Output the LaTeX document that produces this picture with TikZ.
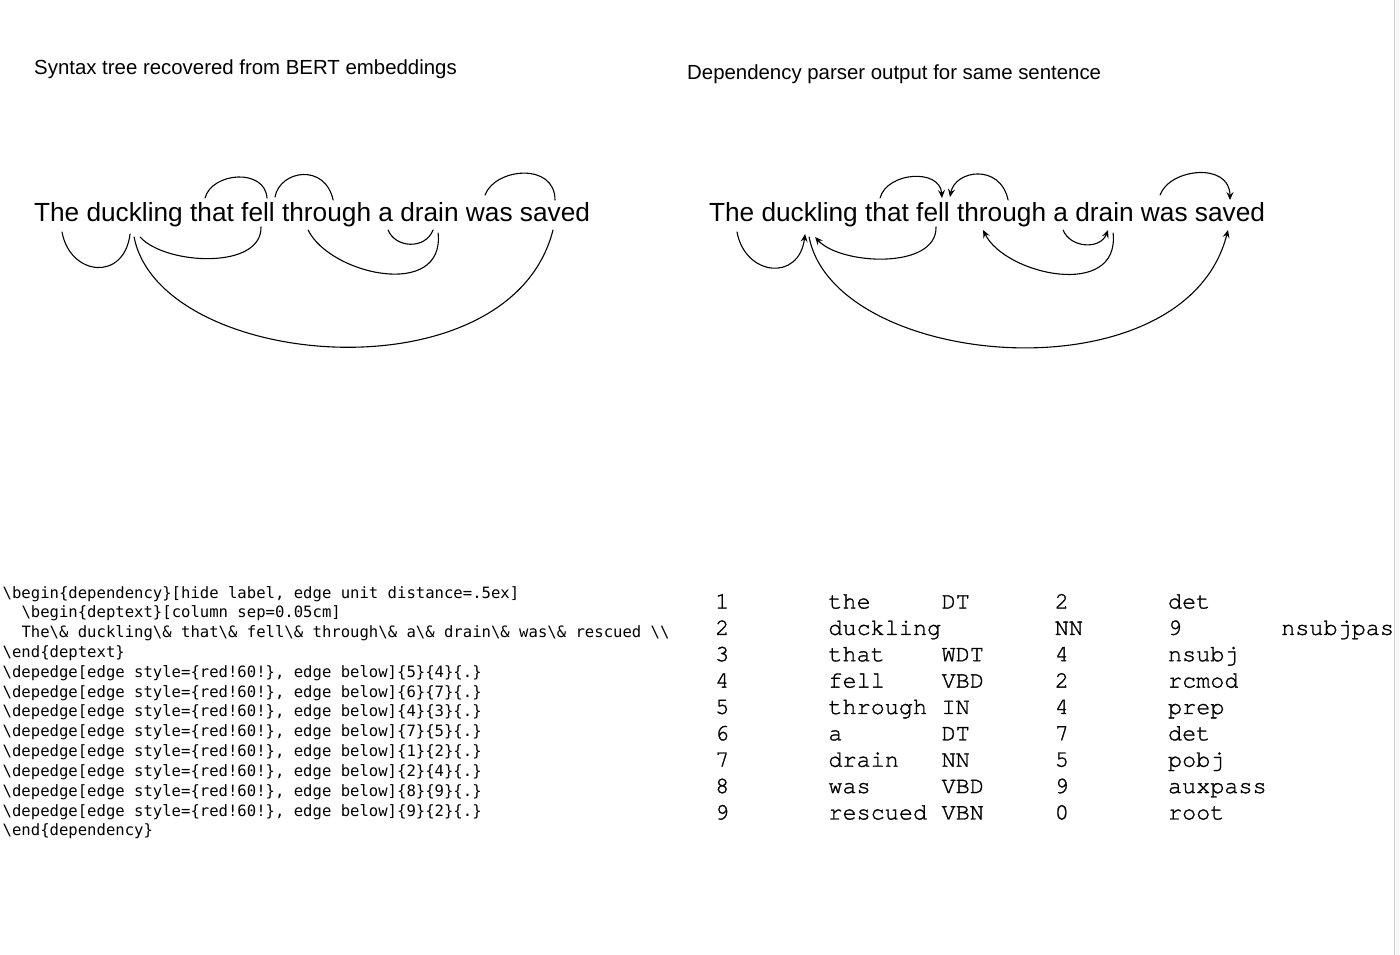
\documentclass[tikz,border=0pt]{standalone}
\usepackage{fontspec}
\setmainfont{Liberation Sans}
\newfontfamily\codefont{DejaVu Sans Mono}
\IfFontExistsTF{texgyrecursor-regular.otf}
  {\newfontfamily\tabfont{texgyrecursor-regular.otf}[FakeBold=1.2]}
  {\newfontfamily\tabfont{Liberation Mono}}
\usetikzlibrary{positioning,arrows.meta}

\tikzset{
  word/.style={inner sep=0pt,outer sep=0pt,font=\fontsize{26.25}{30}\selectfont},
  title/.style={inner sep=0pt,anchor=base west,font=\fontsize{20.4}{24}\selectfont},
  codeline/.style={inner sep=0pt,anchor=base west,font=\codefont\fontsize{15.6}{19}\selectfont},
  cell/.style={inner sep=0pt,anchor=base west,font=\tabfont\fontsize{23.5}{26}\selectfont},
  arc/.style={line width=1.1pt,line cap=round},
  noTip/.style={fwd/.style={},bwd/.style={}},
  withTip/.style={fwd/.style={-{Stealth[length=8pt,width=7pt,inset=3pt]}},
                  bwd/.style={{Stealth[length=8pt,width=7pt,inset=3pt]}-}}
}

\begin{document}
\begin{tikzpicture}[x=1pt,y=-1pt]
\fill[white] (0,0) rectangle (1400,955);
\useasboundingbox (0,0) rectangle (1400,955);

\node[title] (tLeft) at (34,75) {Syntax tree recovered from BERT embeddings};
\node[title] (tRight) at (687,80) {Dependency parser output for same sentence};

%兩個句子與其弧線
\foreach \pn/\px/\kind in {L/0/noTip, R/675/withTip}{
\begin{scope}[shift={(\px,0)},name prefix=\pn-,\kind]
\node[word,anchor=base west] (wThe) at (34,221) {The};
\foreach \w [remember=\w as \lastw (initially The)] in
  {duckling,that,fell,through,a,drain,was,saved}
  \node[word,base right=7.3pt of w\lastw] (w\w) {\w};

\foreach \n/\w/\dx/\dy in
{a1s/The/5.4/11, a1t/duckling/-4.6/13,
    a2s/duckling/5.4/16, a2t/fell/3/6,
    a3s/duckling/-0.6/16, a3t/saved/-2/9,
    a4s/through/-18.5/9, a4t/drain/8.6/12,
    a5s/a/2.4/9, a5t/drain/3.6/9,
    b1s/that/-7/-23, b1t/fell/9/-23,
    b2s/fell/17/-24, b2t/through/6.5/-21,
    b3s/was/-4.3/-26, b3t/saved/0/-21}
  \coordinate (\n) at ([shift={(\dx,\dy)}]w\w.base);

\foreach \s/\t/\ax/\ay/\bx/\by/\d in
{a1s/a1t/8/44/-6/48/fwd,
    a2s/a2t/25/28/1/43/bwd,
    a3s/a3t/26/133/-43/170/fwd,
    a4s/a4t/22/45/7/67/bwd,
    a5s/a5t/7/18/-8/20/fwd,
    b1s/b1t/7/-26/-2/-30/fwd,
    b2s/b2t/5/-27/-8/-37/bwd,
    b3s/b3t/10/-27/0/-38/fwd}
  \draw[arc,\d] (\s) .. controls +(\ax,\ay) and +(\bx,\by) .. (\t);
\end{scope}
}

%程式碼
\node[codeline] (cl1) at (2.5,598) {\textbackslash begin\{dependency\}[hide label, edge unit distance=.5ex]};
\node[codeline] (cl2) at (21.3,617.83) {\textbackslash begin\{deptext\}[column sep=0.05cm]};
\node[codeline] (cl3) at (21.3,637.66) {The\textbackslash\& duckling\textbackslash\& that\textbackslash\& fell\textbackslash\& through\textbackslash\& a\textbackslash\& drain\textbackslash\& was\textbackslash\& rescued \textbackslash\textbackslash};
\node[codeline] (cl4) at (2.5,657.49) {\textbackslash end\{deptext\}};
\foreach \k/\a/\b in {5/5/4, 6/6/7, 7/4/3, 8/7/5, 9/1/2, 10/2/4, 11/8/9, 12/9/2}
  \node[codeline] (cl\k) at (2.5,{598+(\k-1)*19.83})
    {\textbackslash depedge[edge style=\{red!60!\}, edge below]\{\a\}\{\b\}\{.\}};
\node[codeline] (cl13) at (2.5,835.96) {\textbackslash end\{dependency\}};

%剖析器輸出表
\begin{scope}
\clip (0,0) rectangle (1393,955);
\foreach \i/\w/\p/\h/\r/\s in
{1/the/DT/2/det/0,
    2/duckling/NN/9/nsubjpass/1,
    3/that/WDT/4/nsubj/0,
    4/fell/VBD/2/rcmod/0,
    5/through/IN/4/prep/0,
    6/a/DT/7/det/0,
    7/drain/NN/5/pobj/0,
    8/was/VBD/9/auxpass/0,
    9/rescued/VBN/0/root/0}
{
    \pgfmathsetmacro\ry{608.5+(\i-1)*26.37}
    \node[cell] (idx\i) at (715,\ry) {\i};
    \node[cell] (tok\i) at (828.2,\ry) {\w};
    \node[cell] (pos\i) at ({715+(2+\s)*113.2},\ry) {\p};
    \node[cell] (head\i) at ({715+(3+\s)*113.2},\ry) {\h};
    \node[cell] (rel\i) at ({715+(4+\s)*113.2},\ry) {\r};
};
\end{scope}

\fill[gray!5] (1394,0) rectangle (1400,955);
\draw[gray!35,line width=0.6pt] (1394,0) -- (1394,955);

\end{tikzpicture}
\end{document}
